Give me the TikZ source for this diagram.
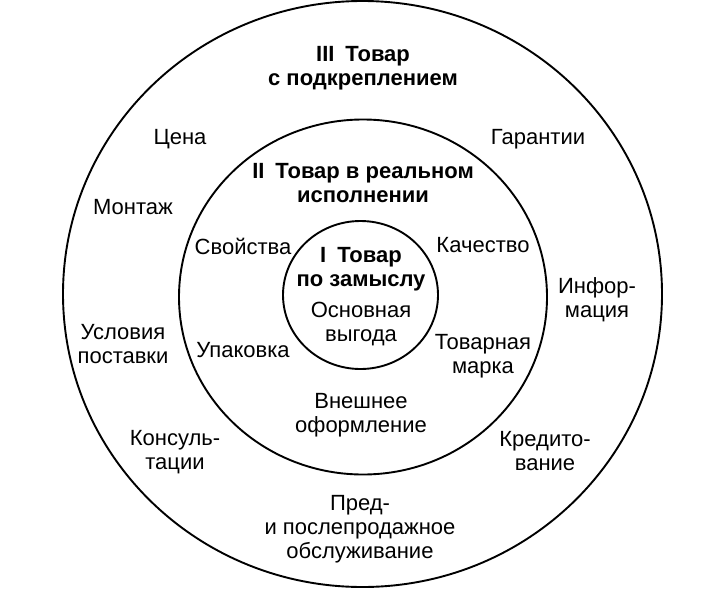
\documentclass[tikz,border=0pt]{standalone}
\usepackage{fontspec}
\setmainfont{Liberation Sans}
\usetikzlibrary{shapes.geometric, positioning}

\begin{document}
\begin{tikzpicture}[
  x=1pt, y=-1pt,
  ring/.style={ellipse, draw=black, line width=1.9pt, inner sep=0pt, minimum width=#1},
  lbl/.style={align=center, inner sep=1pt, font=\fontsize{22}{24}\selectfont},
  head/.style={lbl, font=\fontsize{22}{24}\selectfont\bfseries}
]
\useasboundingbox (0,0) rectangle (714,589);
% three levels of the product
\node[ring=599pt, minimum height=586pt] (outer) at (362.5,294) {};
\node[ring=368pt, minimum height=355pt] (middle) at (363,297) {};
\node[ring=155pt, minimum height=148pt] (inner) at (360.5,295) {};
% headings
\node[head] (h3) at (363,68) {III\enspace Товар\\с подкреплением};
\node[head] (h2) at (363,183) {II\enspace Товар в реальном\\исполнении};
\node[head] (h1) at (361,269) {I\enspace Товар\\по замыслу};
\node[lbl] (core) at (361,324) {Основная\\выгода};
% real product
\node[lbl] (props) at (243,246) {Свойства};
\node[lbl] (quality) at (483,245) {Качество};
\node[lbl] (pack) at (243,350) {Упаковка};
\node[lbl] (brand) at (483,356) {Товарная\\марка};
\node[lbl] (design) at (361,415) {Внешнее\\оформление};
% augmented product
\node[lbl] (price) at (180,139) {Цена};
\node[lbl] (warranty) at (538,139) {Гарантии};
\node[lbl] (install) at (133,207) {Монтаж};
\node[lbl] (info) at (597,300) {Инфор-\\мация};
\node[lbl] (delivery) at (123,344) {Условия\\поставки};
\node[lbl] (consult) at (175,452) {Консуль-\\тации};
\node[lbl] (credit) at (545,451) {Кредито-\\вание};
\node[lbl] (service) at (360,529) {Пред-\\и послепродажное\\обслуживание};
\end{tikzpicture}
\end{document}
